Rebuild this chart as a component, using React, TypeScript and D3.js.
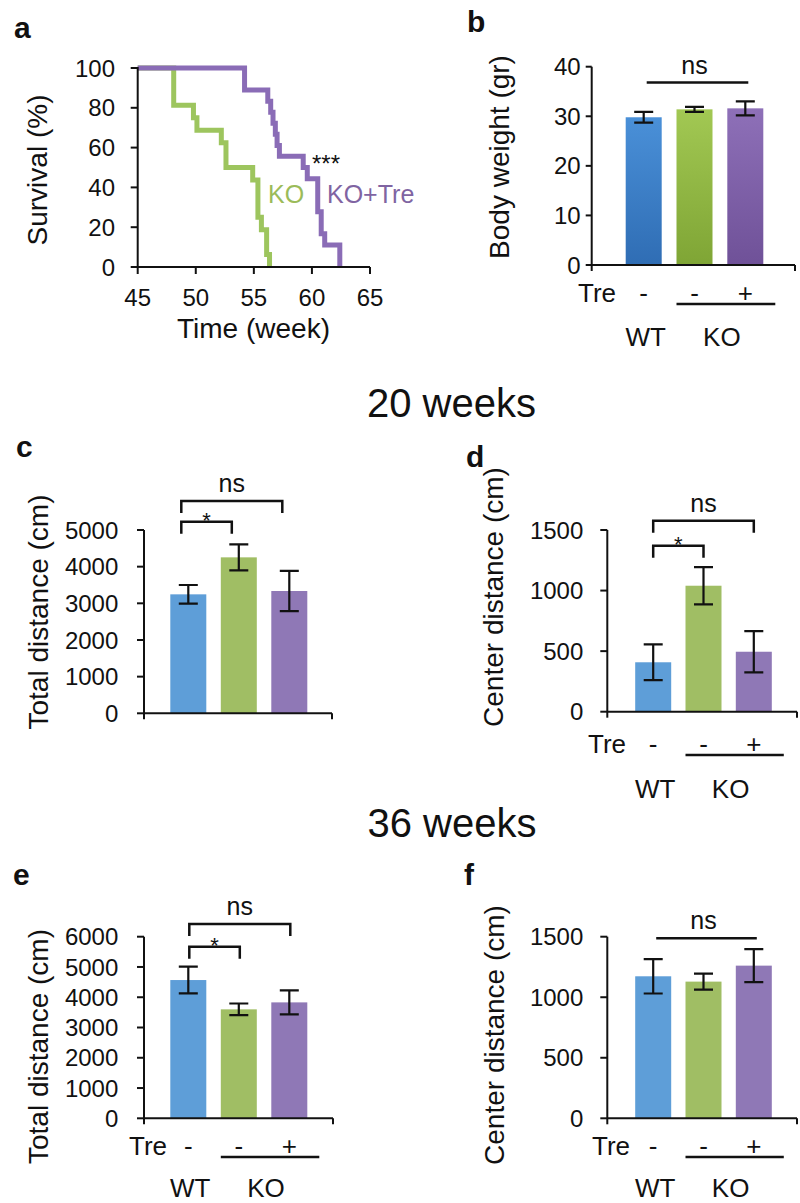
import React from 'react';
import * as d3 from 'd3';

const FONT = '"Liberation Sans", Arial, Helvetica, sans-serif';

// ---- panel a: survival ----
const koWeeks = [45, 48.1, 49.8, 50.1, 52.2, 52.6, 54.9, 55.35, 55.65, 56.1, 56.35];
const koSurvival = [100, 81.25, 75, 68.75, 62.5, 50, 43.75, 25, 18.75, 6.25, 0];
const koTreWeeks = [45, 54.2, 56.2, 56.45, 56.65, 56.85, 57.0, 57.2, 59.25, 59.6, 60.5, 60.8, 61.1, 62.4];
const koTreSurvival = [100, 88.9, 83.3, 77.8, 72.2, 66.7, 61.1, 55.6, 50, 44.4, 27.8, 16.7, 11.1, 0];
const weekTicks = [45, 50, 55, 60, 65];
const survivalTicks = [0, 20, 40, 60, 80, 100];

// ---- bar panels ----
const groups = ['WT', 'KO', 'KO+Tre'];
const treatment = ['-', '-', '+'];

const bodyWeightMean = [29.8, 31.4, 31.6];
const bodyWeightErr = [1.1, 0.5, 1.4];
const bodyWeightTicks = [0, 10, 20, 30, 40];

const total20Mean = [3245, 4254, 3336];
const total20Err = [255, 355, 550];
const total20Ticks = [0, 1000, 2000, 3000, 4000, 5000];

const center20Mean = [408, 1040, 495];
const center20Err = [148, 154, 170];
const center20Ticks = [0, 500, 1000, 1500];

const total36Mean = [4568, 3600, 3830];
const total36Err = [440, 193, 396];
const total36Ticks = [0, 1000, 2000, 3000, 4000, 5000, 6000];

const center36Mean = [1173, 1129, 1261];
const center36Err = [142, 66, 136];
const center36Ticks = [0, 500, 1000, 1500];

const flatColors = ['#5e9ed8', '#a0be64', '#8f78b6'];
const gradColors = [['#4a90d8', '#2f6db4'], ['#a2c853', '#7fa535'], ['#8e70b8', '#6f5198']];

type Bracket = { a: number; b: number; level: number; text: string; open?: boolean };

type BarPanelProps = {
  id: string;
  mean: number[];
  err: number[];
  ticks: number[];
  axisX: number;
  yTop: number;
  yBottom: number;
  xEnd: number;
  c0: number;
  step: number;
  title: string;
  titleX: number;
  titleY: number;
  labelGap: number;
  tickLen: number;
  brackets: Bracket[];
  bracketShift?: number;
  gradient?: boolean;
  tre?: { x: number; y: number; wtY: number };
};

function BarPanel(p: BarPanelProps) {
  const y = d3.scaleLinear().domain([0, p.ticks[p.ticks.length - 1]]).range([p.yBottom, p.yTop]);
  const x = d3.scalePoint<string>().domain(groups).range([p.c0, p.c0 + 2 * p.step]);
  const bw = 36;
  const cap = 9.5;
  const shift = p.bracketShift ?? 0;
  return (
    <g>
      {p.gradient && (
        <defs>
          {gradColors.map((c, i) => (
            <linearGradient key={i} id={`${p.id}-g${i}`} x1="0" y1="0" x2="0" y2="1">
              <stop offset="0" stopColor={c[0]} />
              <stop offset="1" stopColor={c[1]} />
            </linearGradient>
          ))}
        </defs>
      )}
      {groups.map((g, i) => (
        <rect key={g} x={x(g)! - bw / 2} y={y(p.mean[i])} width={bw} height={p.yBottom - y(p.mean[i])}
          fill={p.gradient ? `url(#${p.id}-g${i})` : flatColors[i]} />
      ))}
      {/* error bars */}
      {groups.map((g, i) => {
        const cx = x(g)!;
        const hi = y(p.mean[i] + p.err[i]);
        const lo = y(p.mean[i] - p.err[i]);
        return (
          <path key={g} d={`M${cx - cap},${hi}H${cx + cap}M${cx},${hi}V${lo}M${cx - cap},${lo}H${cx + cap}`}
            stroke="#111" strokeWidth={2.2} fill="none" />
        );
      })}
      {/* axes */}
      <line x1={p.axisX} x2={p.axisX} y1={p.yTop} y2={p.yBottom + 6} stroke="#111" strokeWidth={2} />
      <line x1={p.axisX} x2={p.xEnd} y1={p.yBottom} y2={p.yBottom} stroke="#111" strokeWidth={2} />
      <line x1={p.xEnd} x2={p.xEnd} y1={p.yBottom} y2={p.yBottom + 6} stroke="#111" strokeWidth={2} />
      {p.ticks.map((t) => (
        <g key={t}>
          <line x1={p.axisX - p.tickLen} x2={p.axisX} y1={y(t)} y2={y(t)} stroke="#111" strokeWidth={2} />
          <text x={p.axisX - p.labelGap} y={y(t)} dy="0.36em" textAnchor="end" fontSize={24}>{t}</text>
        </g>
      ))}
      <text transform={`translate(${p.titleX},${p.titleY}) rotate(-90)`} textAnchor="middle" fontSize={28}>{p.title}</text>
      {/* significance */}
      {p.brackets.map((b, i) => {
        const x1 = x(groups[b.a])! + shift;
        const x2 = x(groups[b.b])! + shift;
        const by = y(b.level);
        const d = b.open ? `M${x1 + 3},${by}H${x2 + 3}` : `M${x1},${by + 12}V${by}H${x2}V${by + 12}`;
        return (
          <g key={i}>
            <path d={d} stroke="#111" strokeWidth={2.5} fill="none" />
            <text x={(x1 + x2) / 2} y={b.text === 'ns' ? by - 9 : by + 6} textAnchor="middle"
              fontSize={b.text === 'ns' ? 25 : 22}>{b.text}</text>
          </g>
        );
      })}
      {p.tre && (
        <g fontSize={26}>
          <text x={p.tre.x} y={p.tre.y}>Tre</text>
          {groups.map((g, i) => (
            <text key={g} x={x(g)!} y={p.tre!.y} textAnchor="middle">{treatment[i]}</text>
          ))}
          <line x1={x('KO')! - 18} x2={x('KO+Tre')! + 30} y1={p.tre.y + 2} y2={p.tre.y + 2} stroke="#111" strokeWidth={2.5} />
          <text x={x('WT')! + 2} y={p.tre.wtY} textAnchor="middle">WT</text>
          <text x={(x('KO')! + x('KO+Tre')!) / 2 + 2} y={p.tre.wtY} textAnchor="middle">KO</text>
        </g>
      )}
    </g>
  );
}

function SurvivalPanel() {
  const x = d3.scaleLinear().domain([45, 65]).range([137.7, 370]);
  const y = d3.scaleLinear().domain([0, 100]).range([267, 68]);
  const line = d3.line<[number, number]>()
    .x((d) => x(d[0]))
    .y((d) => y(d[1]))
    .curve(d3.curveStepAfter);
  const ko = koWeeks.map((w, i) => [w, koSurvival[i]] as [number, number]);
  const koTre = koTreWeeks.map((w, i) => [w, koTreSurvival[i]] as [number, number]);
  return (
    <g>
      <path d={line(ko)!} stroke="#9dc55e" strokeWidth={5} fill="none" />
      <path d={line(koTre)!} stroke="#8a6cb6" strokeWidth={5} fill="none" />
      <line x1={137.7} x2={137.7} y1={67} y2={268} stroke="#111" strokeWidth={2} />
      <line x1={137.7} x2={370} y1={267} y2={267} stroke="#111" strokeWidth={2} />
      {survivalTicks.map((t) => (
        <g key={t}>
          <line x1={130.7} x2={137.7} y1={y(t)} y2={y(t)} stroke="#111" strokeWidth={2} />
          <text x={115} y={y(t)} dy="0.36em" textAnchor="end" fontSize={24}>{t}</text>
        </g>
      ))}
      {weekTicks.map((t) => (
        <g key={t}>
          <line x1={x(t)} x2={x(t)} y1={267} y2={274} stroke="#111" strokeWidth={2} />
          <text x={x(t)} y={306} textAnchor="middle" fontSize={24}>{t}</text>
        </g>
      ))}
      <text x={253.5} y={338} textAnchor="middle" fontSize={28}>Time (week)</text>
      <text transform="translate(47,170) rotate(-90)" textAnchor="middle" fontSize={28}>Survival (%)</text>
      <text x={326} y={172} textAnchor="middle" fontSize={24}>***</text>
      <text x={268} y={203} fontSize={25} fill="#9bbb59">KO</text>
      <text x={327} y={203} fontSize={25} fill="#8064a2">KO+Tre</text>
    </g>
  );
}

export default function App() {
  return (
    <svg width={800} height={1203} viewBox="0 0 800 1203"
      style={{ position: 'absolute', left: 0, top: 0, background: '#fff' }}
      fontFamily={FONT} fill="#111">
      <rect width={800} height={1203} fill="#fff" />
      <g fontWeight="bold" fontSize={30}>
        <text x={14} y={38}>a</text>
        <text x={467} y={32}>b</text>
        <text x={16} y={457}>c</text>
        <text x={466} y={467}>d</text>
        <text x={13} y={885}>e</text>
        <text x={464} y={885}>f</text>
      </g>
      <text x={451.5} y={417} textAnchor="middle" fontSize={40}>20 weeks</text>
      <text x={452} y={836.7} textAnchor="middle" fontSize={40}>36 weeks</text>

      <SurvivalPanel />

      <BarPanel id="b" mean={bodyWeightMean} err={bodyWeightErr} ticks={bodyWeightTicks}
        axisX={591.7} yTop={66.7} yBottom={265} xEnd={795} c0={643.7} step={50.8}
        title="Body weight (gr)" titleX={509} titleY={157} labelGap={11} tickLen={6}
        brackets={[{ a: 0, b: 2, level: 36.8, text: 'ns', open: true }]} gradient
        tre={{ x: 578, y: 302, wtY: 346 }} />

      <BarPanel id="c" mean={total20Mean} err={total20Err} ticks={total20Ticks}
        axisX={144} yTop={530} yBottom={713.3} xEnd={332} c0={188.3} step={50.5}
        title="Total distance (cm)" titleX={47.5} titleY={612} labelGap={25.7} tickLen={7}
        brackets={[{ a: 0, b: 1, level: 5225, text: '*' }, { a: 0, b: 2, level: 5790, text: 'ns' }]}
        bracketShift={-7} />

      <BarPanel id="d" mean={center20Mean} err={center20Err} ticks={center20Ticks}
        axisX={607.3} yTop={530} yBottom={711.7} xEnd={797} c0={653.2} step={50.3}
        title="Center distance (cm)" titleX={502.5} titleY={597} labelGap={24} tickLen={7}
        brackets={[{ a: 0, b: 1, level: 1371, text: '*' }, { a: 0, b: 2, level: 1577, text: 'ns' }]}
        tre={{ x: 588, y: 753, wtY: 798 }} />

      <BarPanel id="e" mean={total36Mean} err={total36Err} ticks={total36Ticks}
        axisX={144} yTop={936.7} yBottom={1118.3} xEnd={333} c0={188.3} step={50.5}
        title="Total distance (cm)" titleX={47.5} titleY={1046.5} labelGap={25.7} tickLen={7}
        brackets={[{ a: 0, b: 1, level: 5667, text: '*' }, { a: 0, b: 2, level: 6417, text: 'ns' }]}
        bracketShift={1} tre={{ x: 129, y: 1155, wtY: 1197 }} />

      <BarPanel id="f" mean={center36Mean} err={center36Err} ticks={center36Ticks}
        axisX={607.3} yTop={936.7} yBottom={1118.3} xEnd={797} c0={653.2} step={50.3}
        title="Center distance (cm)" titleX={504} titleY={1035} labelGap={24} tickLen={7}
        brackets={[{ a: 0, b: 2, level: 1488, text: 'ns', open: true }]}
        tre={{ x: 592, y: 1155, wtY: 1197 }} />
    </svg>
  );
}
